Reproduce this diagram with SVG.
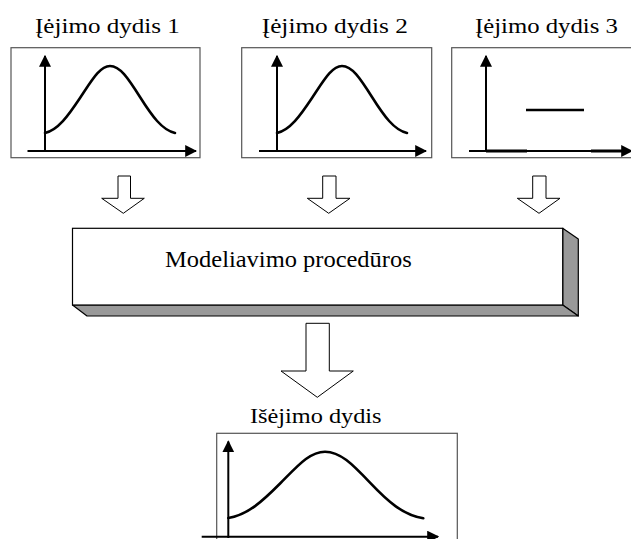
<svg xmlns="http://www.w3.org/2000/svg" width="631" height="539" viewBox="0 0 631 539">
  <style>
    .frame { fill: #fff; stroke: #555; stroke-width: 1.2; }
    .axis { fill: none; stroke: #000; stroke-width: 2; }
    .curve { fill: none; stroke: #000; stroke-width: 2.6; stroke-linecap: round; }
    .block { fill: #fff; stroke: #000; stroke-width: 1.2; stroke-linejoin: miter; }
    .shade { fill: #999; stroke: #000; stroke-width: 1.2; stroke-linejoin: round; }
    .hollow { fill: #fff; stroke: #000; stroke-width: 1; stroke-linejoin: miter; }
  </style>
  <defs>
    <marker id="tip" viewBox="0 0 10 10" refX="9" refY="5" markerWidth="6" markerHeight="6" markerUnits="strokeWidth" orient="auto">
      <path d="M0,0 L10,5 L0,10 Z" fill="#000"/>
    </marker>
    <!-- bell-shaped signal used in the small plots -->
    <path id="bell" d="M45,133 C58,130 68,116 80,98 C92,80 100,66 110,66 C120,66 128,78 140,97 C152,116 162,130 175,133"/>
  </defs>
  <rect width="631" height="539" fill="#fff"/>

  <!-- input 1 -->
  <g id="input1">
    <text x="30.7" y="33" font-family="Liberation Serif" font-size="22" transform="scale(1.14,1)">Įėjimo dydis 1</text>
    <rect class="frame" x="11" y="47.7" width="189" height="110"/>
    <line class="axis" x1="45" y1="152" x2="45" y2="56" marker-end="url(#tip)"/>
    <line class="axis" x1="27.5" y1="151" x2="196" y2="151" marker-end="url(#tip)"/>
    <use href="#bell" class="curve"/>
  </g>

  <!-- input 2 -->
  <g id="input2">
    <text x="227.6" y="33" font-family="Liberation Serif" font-size="22" transform="scale(1.15,1)">Įėjimo dydis 2</text>
    <rect class="frame" x="241.7" y="47.7" width="190" height="110"/>
    <line class="axis" x1="277" y1="152" x2="277" y2="56" marker-end="url(#tip)"/>
    <line class="axis" x1="259" y1="151" x2="426" y2="151" marker-end="url(#tip)"/>
    <use href="#bell" class="curve" transform="translate(232,0)"/>
  </g>

  <!-- input 3: step signal -->
  <g id="input3">
    <text x="422.2" y="33" font-family="Liberation Serif" font-size="22" transform="scale(1.125,1)">Įėjimo dydis 3</text>
    <rect class="frame" x="451.7" y="47.7" width="200" height="110"/>
    <line class="axis" x1="486" y1="152" x2="486" y2="56" marker-end="url(#tip)"/>
    <line class="axis" x1="469" y1="151" x2="632" y2="151" marker-end="url(#tip)"/>
    <line stroke="#000" stroke-width="3" x1="486" y1="151" x2="527" y2="151"/>
    <line stroke="#000" stroke-width="3" x1="591" y1="151" x2="626" y2="151"/>
    <line stroke="#000" stroke-width="2.6" x1="526" y1="110" x2="584" y2="110"/>
  </g>

  <!-- modelling block drawn as a slab -->
  <g id="model">
    <polygon class="shade" points="562.7,228.3 578.3,239 578.3,316 562.7,305"/>
    <polygon class="shade" points="72.5,305 562.7,305 578.3,316 87,316"/>
    <rect class="block" x="72.5" y="228.3" width="490.2" height="76.7"/>
    <text x="161.8" y="266.7" font-family="Liberation Serif" font-size="24" transform="scale(1.02,1)">Modeliavimo procedūros</text>
  </g>

  <!-- output -->
  <g id="output">
    <text x="226.2" y="423" font-family="Liberation Serif" font-size="22" transform="scale(1.105,1)">Išėjimo dydis</text>
    <rect class="frame" x="216.7" y="433.3" width="240.6" height="120"/>
    <line class="axis" x1="228.3" y1="538" x2="228.3" y2="441.5" marker-end="url(#tip)"/>
    <line class="axis" x1="201.7" y1="536.7" x2="438" y2="536.7" marker-end="url(#tip)"/>
    <path class="curve" d="M228.3,518 C247.7,515 262.7,501 280.6,483 C298.5,465 310,451.7 325,451.7 C340,451.7 352,463.7 370,482.7 C388,501.7 403,515 423.3,518.3"/>
  </g>

  <!-- block arrows between stages -->
  <g id="connectors">
    <polygon class="hollow" points="118,176 130.5,176 130.5,198.3 144.3,198.3 123.3,213.3 101.7,198.3 118,198.3"/>
    <polygon class="hollow" points="322.7,176 336,176 336,198.3 350,198.3 328.7,213.3 307.3,198.3 322.7,198.3"/>
    <polygon class="hollow" points="532.7,176 546,176 546,198.3 560,198.3 539,213.3 517.3,198.3 532.7,198.3"/>
    <polygon class="hollow" points="306,323.3 329.3,323.3 329.3,371 353.3,371 317.3,397.3 281,371 306,371"/>
  </g>
</svg>
